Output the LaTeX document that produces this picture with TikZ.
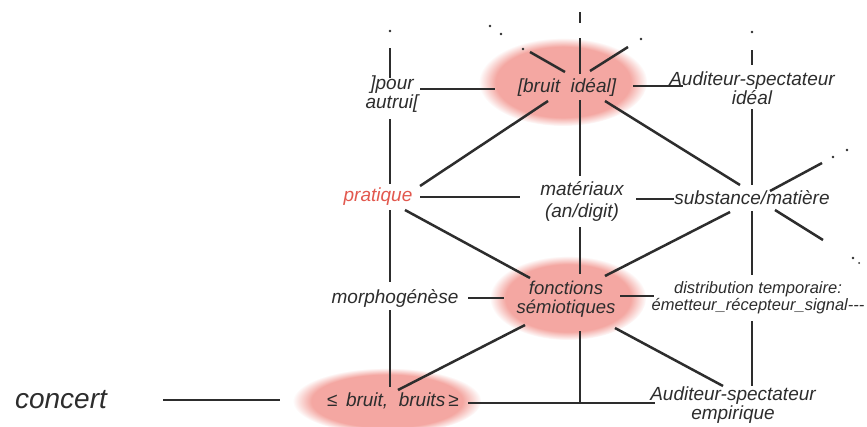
\documentclass[tikz,border=0pt]{standalone}
\usepackage{fontspec}
\setmainfont{Liberation Sans}
\usetikzlibrary{calc,fadings}
\definecolor{ink}{RGB}{45,45,45}
\definecolor{blobc}{RGB}{243,158,152}
\definecolor{redtxt}{RGB}{226,88,78}
\begin{document}
\begin{tikzpicture}[x=1pt,y=-1pt,
  lbl/.style={font=\itshape\fontsize{19}{17}\selectfont, text=ink, align=center, inner sep=0pt},
  ln/.style={draw=ink, line width=2.5pt},
  speck/.style={fill=ink, circle, inner sep=0pt, minimum size=2.8pt},
  blob/.style={fill=blobc, path fading=circle with fuzzy edge 20 percent, fill opacity=0.9}]
\useasboundingbox (0,0) rectangle (867,426);
\fill[white] (0,0) rectangle (867,426);
% pink blobs
\fill[blob] (563,82) ellipse [x radius=84, y radius=44];
\fill[blob] (568,298) ellipse [x radius=78, y radius=42];
\fill[blob] (387,401) ellipse [x radius=94, y radius=33];
% labels
\node[lbl, font=\itshape\fontsize{28}{28}\selectfont] (concert) at (61,400) {concert};
\node[lbl] (bruits) at (393,401) {≤\, bruit,\ \ bruits\,≥};
\node[lbl] (morpho) at (395,298) {morphogénèse};
\node[lbl, font=\itshape\fontsize{18.5}{19}\selectfont] (fonct) at (566,299) {fonctions\\sémiotiques};
\node[lbl, font=\itshape\fontsize{16.5}{17}\selectfont] (distrib) at (758,298) {distribution temporaire:\\émetteur\_récepteur\_signal-{}-{}-};
\node[lbl] (empir) at (733,405) {Auditeur-spectateur\\empirique};
\node[lbl, text=redtxt] (prat) at (378,197) {pratique};
\node[lbl, font=\itshape\fontsize{19}{22}\selectfont] (mater) at (582,201) {matériaux\\(an/digit)};
\node[lbl] (subst) at (752,198) {substance/matière};
\node[lbl] (autrui) at (392,94) {]pour\\autrui[};
\node[lbl] (ideal) at (567,87) {[bruit\ \ idéal]};
\node[lbl] (audid) at (752,88) {Auditeur-spectateur\\idéal};
% free ends and specks
\coordinate (t1) at (390,48);
\coordinate (t2a) at (580,12);
\coordinate (t2b) at (580,23);
\coordinate (t2) at (580,38);
\coordinate (t3) at (752,50);
\coordinate (ul) at (530,52);
\coordinate (ur) at (628,47);
\coordinate (sur) at (822,163);
\coordinate (sdr) at (823,240);
\node[speck] (d1) at (390,31) {};
\node[speck] (d2) at (752,32) {};
\node[speck] (d3) at (523,49) {};
\node[speck] (d4) at (501,34) {};
\node[speck] (d5) at (490,26) {};
\node[speck] (d6) at (641,39) {};
\node[speck] (d7) at (833,157) {};
\node[speck] (d8) at (847,150) {};
\node[speck] (d9) at (853,258) {};
\node[speck, minimum size=2pt] (d10) at (859,263) {};
% column 1
\draw[ln] (t1) -- ($(autrui)+(-2,-16)$);
\draw[ln] ($(autrui)+(-2,25)$) -- ($(prat)+(12,-13)$);
\draw[ln] ($(prat)+(12,13)$) -- ($(morpho)+(-5,-16)$);
\draw[ln] ($(morpho)+(-5,12)$) -- ($(bruits)+(-3,-14)$);
% column 2
\draw[ln] (t2a) -- (t2b);
\draw[ln] (t2) -- ($(ideal)+(13,-13)$);
\draw[ln] ($(ideal)+(13,13)$) -- ($(mater)+(-2,-25)$);
\draw[ln] ($(mater)+(-2,26)$) -- ($(fonct)+(14,-25)$);
\coordinate (qa) at ($(bruits)+(75,2)$);
\coordinate (qb) at ($(empir)+(-78,-2)$);
\coordinate (jf) at ($(fonct)+(14,32)$);
\draw[ln] (jf) -- (jf |- qa);
% column 3
\draw[ln] (t3) -- ($(audid)+(0,-23)$);
\draw[ln] ($(audid)+(0,21)$) -- ($(subst)+(0,-13)$);
\draw[ln] ($(subst)+(0,13)$) -- ($(distrib)+(-6,-23)$);
\draw[ln] ($(distrib)+(-6,23)$) -- ($(empir)+(19,-19)$);
% horizontals
\draw[ln] ($(concert)+(102,0)$) -- ($(bruits)+(-113,-1)$);
\draw[ln] (qa) -- (qb);
\draw[ln] ($(morpho)+(73,0)$) -- ($(fonct)+(-62,-1)$);
\draw[ln] ($(fonct)+(54,-3)$) -- ($(distrib)+(-104,-2)$);
\draw[ln] ($(prat)+(42,0)$) -- ($(mater)+(-62,-4)$);
\draw[ln] ($(mater)+(54,-2)$) -- ($(subst)+(-78,1)$);
\draw[ln] ($(autrui)+(28,-5)$) -- ($(ideal)+(-72,2)$);
\draw[ln] ($(ideal)+(66,-1)$) -- ($(audid)+(-69,-2)$);
% diagonals
\draw[ln] ($(prat)+(42,-11)$) -- ($(ideal)+(-19,14)$);
\draw[ln] ($(ideal)+(38,14)$) -- ($(subst)+(-12,-13)$);
\draw[ln] ($(ideal)+(-2,-15)$) -- (ul);
\draw[ln] ($(ideal)+(23,-16)$) -- (ur);
\draw[ln] ($(prat)+(27,13)$) -- ($(fonct)+(-36,-21)$);
\draw[ln] ($(fonct)+(-41,26)$) -- ($(bruits)+(5,-11)$);
\draw[ln] ($(fonct)+(39,-23)$) -- ($(subst)+(-22,14)$);
\draw[ln] ($(fonct)+(49,29)$) -- ($(empir)+(-10,-19)$);
\draw[ln] ($(subst)+(18,-7)$) -- (sur);
\draw[ln] ($(subst)+(23,12)$) -- (sdr);
\end{tikzpicture}
\end{document}
